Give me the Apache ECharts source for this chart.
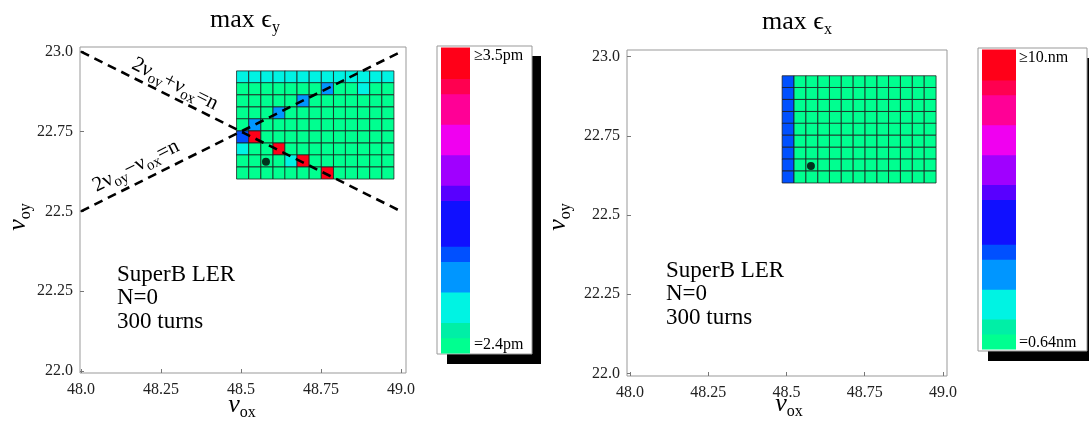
<!DOCTYPE html>
<html><head><meta charset="utf-8">
<script src="https://cdn.jsdelivr.net/npm/echarts@6/dist/echarts.min.js"></script>
<style>html,body{margin:0;padding:0;background:#fff}#c{width:1089px;height:423px}</style>
</head><body><div id="c"></div>
<script>
// ---------------- data ----------------
const nuX = [48.505, 48.543, 48.581, 48.619, 48.656, 48.694, 48.732, 48.770, 48.808, 48.845, 48.883, 48.921, 48.959];
const nuY = [22.921, 22.884, 22.846, 22.808, 22.771, 22.733, 22.695, 22.658, 22.620]; // top row first
const cellW = 0.0378, cellH = 0.0377;
// colour level (0..19) of every cell, rows from top to bottom
const levelsEy = [
  [3,3,3,3,3,3,3,3,3,3,3,3,3],
  [0,0,0,0,0,0,0,5,0,0,3,0,0],
  [0,0,0,0,0,5,0,0,0,0,0,0,0],
  [0,0,0,5,0,0,0,0,0,0,0,0,0],
  [0,5,0,0,0,0,0,0,0,0,0,0,0],
  [6,19,0,0,0,0,0,0,0,0,0,0,0],
  [3,0,0,19,0,0,0,0,0,0,0,0,0],
  [0,0,0,0,3,19,0,0,0,0,0,0,0],
  [0,0,0,0,0,0,0,19,0,0,0,0,0]
];
const levelsEx = [
  [6,0,0,0,0,0,0,0,0,0,0,0,0],
  [6,0,0,0,0,0,0,0,0,0,0,0,0],
  [6,0,0,0,0,0,0,0,0,0,0,0,0],
  [6,0,0,0,0,0,0,0,0,0,0,0,0],
  [6,0,0,0,0,0,0,0,0,0,0,0,0],
  [6,0,0,0,0,0,0,0,0,0,0,0,0],
  [6,0,0,0,0,0,0,0,0,0,0,0,0],
  [6,0,0,0,0,0,0,0,0,0,0,0,0],
  [6,0,0,0,0,0,0,0,0,0,0,0,0]
];
const workingPoint = [[48.578, 22.655]];
const resonanceSum  = [[48.0, 23.0], [49.0, 22.5]];   // 2νy+νx=n
const resonanceDiff = [[48.0, 22.5], [49.0, 23.0]];   // 2νy−νx=n
const levelColors = ['#00FF90','#00EFA6','#00F3E3','#00F3E3','#0096FF','#0096FF','#0050FF','#1010FF','#1010FF','#1010FF',
                     '#5800FF','#A000FF','#A000FF','#F000F0','#F000F0','#FF0096','#FF0096','#FF0050','#FF0018','#FF0018'];
const legendLevels = [0,1,2,3,4,5,6,7,8,9,10,11,12,13,14,15,16,17,18,19];
const legendEy = ['≥3.5pm', '=2.4pm'];
const legendEx = ['≥10.nm', '=0.64nm'];
const xTicks = [48, 48.25, 48.5, 48.75, 49];
const xTickLabels = ['48.0', '48.25', '48.5', '48.75', '49.0'];
const yTicks = [22, 22.25, 22.5, 22.75, 23];
const yTickLabels = ['22.0', '22.25', '22.5', '22.75', '23.0'];
const infoLines = ['SuperB LER', 'N=0', '300 turns'];

// ---------------- chart ----------------
const SERIF = "'Liberation Serif','DejaVu Serif','Times New Roman',serif";
function lbl(vals, labels, v) {
  let best = 0;
  for (let i = 0; i < vals.length; i++) if (Math.abs(vals[i] - v) < Math.abs(vals[best] - v)) best = i;
  return labels[best];
}
function cells(levels) {
  const out = [];
  for (let r = 0; r < nuY.length; r++)
    for (let c = 0; c < nuX.length; c++) out.push([nuX[c], nuY[r], levels[r][c]]);
  return out;
}
function renderCell(params, api) {
  const x = api.value(0), y = api.value(1), lv = api.value(2);
  const p0 = api.coord([x - cellW / 2, y + cellH / 2]);
  const p1 = api.coord([x + cellW / 2, y - cellH / 2]);
  return { type: 'rect', shape: { x: p0[0], y: p0[1], width: p1[0] - p0[0], height: p1[1] - p0[1] },
           style: { fill: levelColors[lv], stroke: 'rgba(25,25,25,0.75)', lineWidth: 1 } };
}
function renderLegend(params, api) {
  const lv = api.value(1);
  const p0 = api.coord([0, lv + 1]);
  const p1 = api.coord([1, lv]);
  return { type: 'rect', shape: { x: p0[0], y: p0[1] - 0.5, width: p1[0] - p0[0], height: p1[1] - p0[1] + 1 },
           style: { fill: levelColors[lv] } };
}
function plotX(gi, min, max) {
  return { type: 'value', gridIndex: gi, min, max, axisLine: { show: false }, splitLine: { show: false },
    axisTick: { show: true, inside: true, length: 4, customValues: xTicks, lineStyle: { color: '#777' } },
    axisLabel: { customValues: xTicks, formatter: v => lbl(xTicks, xTickLabels, v), margin: 9,
                 fontFamily: SERIF, fontSize: 16, color: '#222' } };
}
function plotY(gi, min, max) {
  return { type: 'value', gridIndex: gi, min, max, axisLine: { show: false }, splitLine: { show: false },
    axisTick: { show: true, inside: true, length: 4, customValues: yTicks, lineStyle: { color: '#777' } },
    axisLabel: { customValues: yTicks, formatter: v => lbl(yTicks, yTickLabels, v), margin: 7,
                 fontFamily: SERIF, fontSize: 16, color: '#222' } };
}
function hiddenAxis(gi, min, max) {
  return { type: 'value', gridIndex: gi, min, max, show: false, splitLine: { show: false } };
}
const mainRich = (main, sub, italic) => ({
  m: { fontSize: main, fontFamily: SERIF, fill: '#000', lineHeight: main + 6, fontStyle: italic ? 'italic' : 'normal' },
  s: { fontSize: sub, fontFamily: SERIF, fill: '#000', lineHeight: sub, verticalAlign: 'bottom' }
});
function txt(x, y, text, rich, rotation, align) {
  return { type: 'text', x, y, rotation: rotation || 0, z: 100,
    style: { text, rich, align: align || 'center', verticalAlign: 'middle' } };
}
const lineRich = mainRich(21, 15, false);
const g = [];
// legend shadows & boxes
g.push({ type: 'rect', z: 0, shape: { x: 447, y: 56, width: 94, height: 308 }, style: { fill: '#000' } });
g.push({ type: 'rect', z: 0, shape: { x: 437, y: 46, width: 95, height: 308 }, style: { fill: '#fff', stroke: '#999', lineWidth: 1 } });
g.push({ type: 'rect', z: 0, shape: { x: 988, y: 58, width: 110, height: 303 }, style: { fill: '#000' } });
g.push({ type: 'rect', z: 0, shape: { x: 978, y: 48, width: 109, height: 303 }, style: { fill: '#fff', stroke: '#999', lineWidth: 1 } });
// legend labels
const legFont = { fontSize: 16, fontFamily: SERIF, fill: '#000' };
g.push({ type: 'text', x: 474, y: 56, z: 100, style: Object.assign({ text: legendEy[0], align: 'left', verticalAlign: 'middle' }, legFont) });
g.push({ type: 'text', x: 474, y: 345, z: 100, style: Object.assign({ text: legendEy[1], align: 'left', verticalAlign: 'middle' }, legFont) });
g.push({ type: 'text', x: 1019, y: 58, z: 100, style: Object.assign({ text: legendEx[0], align: 'left', verticalAlign: 'middle' }, legFont) });
g.push({ type: 'text', x: 1019, y: 343, z: 100, style: Object.assign({ text: legendEx[1], align: 'left', verticalAlign: 'middle' }, legFont) });
// titles
g.push(txt(245, 20, '{m|max ϵ}{s|y}', mainRich(26, 16, false)));
g.push(txt(797, 22, '{m|max ϵ}{s|x}', mainRich(26, 16, false)));
// axis names
g.push(txt(242, 405, '{m|ν}{s|ox}', mainRich(26, 16, true)));
g.push(txt(789, 404, '{m|ν}{s|ox}', mainRich(26, 16, true)));
g.push(txt(18, 217, '{m|ν}{s|oy}', mainRich(26, 16, true), Math.PI / 2));
g.push(txt(558, 217, '{m|ν}{s|oy}', mainRich(26, 16, true), Math.PI / 2));
// resonance labels
const ang = Math.atan(0.5);
g.push(txt(175, 84, '{m|2ν}{s|oy}{m|+ν}{s|ox}{m|=n}', lineRich, -ang));
g.push(txt(136, 166, '{m|2ν}{s|oy}{m|−ν}{s|ox}{m|=n}', lineRich, ang));
// info text
const infoStyle = { fontSize: 23, fontFamily: SERIF, fill: '#000', lineHeight: 23.5, align: 'left', verticalAlign: 'top' };
g.push({ type: 'text', x: 117, y: 263, z: 100, style: Object.assign({ text: infoLines.join('\n') }, infoStyle) });
g.push({ type: 'text', x: 666, y: 259, z: 100, style: Object.assign({ text: infoLines.join('\n') }, infoStyle) });

const legendData = legendLevels.map(l => [0, l]);
const option = {
  animation: false,
  backgroundColor: '#fff',
  grid: [
    { left: 80, top: 47, width: 326, height: 326, show: true, borderColor: '#999', borderWidth: 1, backgroundColor: 'transparent' },
    { left: 627, top: 50, width: 320, height: 326, show: true, borderColor: '#999', borderWidth: 1, backgroundColor: 'transparent' },
    { left: 441, top: 48, width: 29, height: 305, z: 5 },
    { left: 982, top: 50, width: 34, height: 299, z: 5 }
  ],
  xAxis: [plotX(0, 47.9969, 49.0156), plotX(1, 47.9904, 49.0128), hiddenAxis(2, 0, 1), hiddenAxis(3, 0, 1)],
  yAxis: [plotY(0, 21.9937, 23.0147), plotY(1, 21.9915, 23.0212), hiddenAxis(2, 0, 20), hiddenAxis(3, 0, 20)],
  series: [
    { type: 'custom', name: 'max εy', xAxisIndex: 0, yAxisIndex: 0, renderItem: renderCell, data: cells(levelsEy), encode: { x: 0, y: 1 }, z: 2, silent: true },
    { type: 'custom', name: 'max εx', xAxisIndex: 1, yAxisIndex: 1, renderItem: renderCell, data: cells(levelsEx), encode: { x: 0, y: 1 }, z: 2, silent: true },
    { type: 'line', xAxisIndex: 0, yAxisIndex: 0, data: resonanceSum, showSymbol: false, symbol: 'none', z: 3, silent: true,
      lineStyle: { color: '#000', width: 2.6, type: [9, 6] } },
    { type: 'line', xAxisIndex: 0, yAxisIndex: 0, data: resonanceDiff, showSymbol: false, symbol: 'none', z: 3, silent: true,
      lineStyle: { color: '#000', width: 2.6, type: [9, 6] } },
    { type: 'scatter', xAxisIndex: 0, yAxisIndex: 0, data: workingPoint, symbolSize: 8, itemStyle: { color: '#000' }, z: 4, silent: true },
    { type: 'scatter', xAxisIndex: 1, yAxisIndex: 1, data: workingPoint, symbolSize: 8, itemStyle: { color: '#000' }, z: 4, silent: true },
    { type: 'custom', xAxisIndex: 2, yAxisIndex: 2, renderItem: renderLegend, data: legendData, encode: { x: 0, y: 1 }, z: 6, silent: true, clip: false },
    { type: 'custom', xAxisIndex: 3, yAxisIndex: 3, renderItem: renderLegend, data: legendData, encode: { x: 0, y: 1 }, z: 6, silent: true, clip: false }
  ],
  graphic: g
};
const chart = echarts.init(document.getElementById('c'), null, { renderer: 'canvas' });
chart.setOption(option);
</script></body></html>
